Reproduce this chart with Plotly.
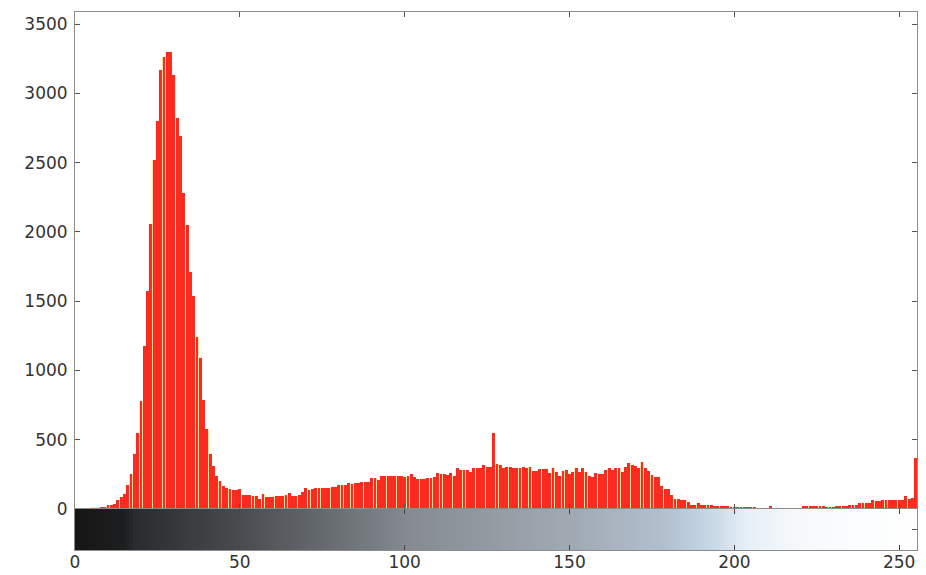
import plotly.graph_objects as go

# Grey levels 0..255 and pixel counts per level
levels = list(range(256))

counts_0_49 = [
    0, 0, 0, 0, 0, 8, 10, 10, 12, 12,
    30, 32, 35, 65, 90, 105, 170, 250, 400, 550,
    780, 1180, 1570, 2060, 2520, 2800, 3170, 3260, 3300, 3300,
    3130, 2820, 2690, 2280, 2050, 1710, 1540, 1240, 1090, 790,
    580, 400, 310, 235, 200, 165, 150, 145, 140, 140,
]
counts_50_99 = [
    145, 100, 100, 100, 95, 92, 72, 106, 88, 90,
    90, 95, 95, 95, 98, 113, 94, 92, 100, 125,
    149, 137, 145, 148, 150, 152, 155, 154, 156, 160,
    173, 170, 175, 185, 183, 186, 190, 192, 192, 194,
    226, 222, 209, 238, 236, 240, 238, 236, 240, 235,
]
counts_100_149 = [
    230, 238, 252, 228, 214, 214, 216, 226, 226, 228,
    262, 252, 252, 243, 262, 238, 298, 281, 281, 283,
    269, 298, 298, 296, 317, 305, 305, 546, 325, 318,
    293, 305, 305, 293, 298, 298, 300, 298, 305, 274,
    274, 286, 286, 286, 262, 296, 269, 238, 274, 281,
]
counts_150_199 = [
    252, 269, 293, 269, 293, 269, 238, 233, 262, 252,
    252, 281, 293, 281, 298, 298, 269, 300, 329, 317,
    310, 298, 341, 298, 274, 245, 233, 233, 166, 142,
    142, 101, 70, 70, 65, 65, 53, 29, 29, 46,
    29, 29, 29, 29, 25, 22, 22, 22, 22, 15,
]
counts_200_255 = [
    12, 12, 12, 12, 12, 12, 12, 7, 7, 7,
    7, 22, 7, 5, 5, 5, 5, 5, 5, 5,
    5, 22, 22, 22, 20, 20, 20, 20, 17, 17,
    17, 22, 22, 22, 22, 29, 29, 29, 46, 46,
    46, 46, 65, 55, 55, 65, 65, 65, 65, 65,
    65, 65, 94, 75, 82, 365,
]
counts = counts_0_49 + counts_50_99 + counts_100_149 + counts_150_199 + counts_200_255

y_tick_values = [0, 500, 1000, 1500, 2000, 2500, 3000, 3500]
x_tick_values = [0, 50, 100, 150, 200, 250]

# Colours of the grey-level strip under the histogram
strip_scale = [
    [0.00, "#161616"],
    [0.06, "#1d1e1f"],
    [0.07, "#2a2b2c"],
    [0.20, "#4a4d50"],
    [0.40, "#858b91"],
    [0.60, "#a2abb5"],
    [0.70, "#b1bfcd"],
    [0.75, "#c3d4e3"],
    [0.80, "#e6eff6"],
    [0.86, "#f6f9fb"],
    [1.00, "#ffffff"],
]

RED = "#fb2a1e"
GAP = "#fde9a6"
AXIS = "#8c8c8c"
TICKFONT = dict(family="DejaVu Sans", size=17, color="#333333")

fig = go.Figure()

# pale layer showing through the thin gaps between bars
fig.add_trace(go.Bar(
    x=levels, y=counts, width=1.0,
    marker=dict(color=GAP, line=dict(width=0)),
    xaxis="x", yaxis="y", hoverinfo="skip", showlegend=False,
))
fig.add_trace(go.Bar(
    x=levels, y=counts, width=0.86,
    marker=dict(color=RED, line=dict(color=RED, width=0.05)),
    xaxis="x", yaxis="y", showlegend=False,
))

# grey-level strip
fig.add_trace(go.Heatmap(
    x=levels, y=[0, 1], z=[levels, levels],
    colorscale=strip_scale, zmin=0, zmax=255,
    showscale=False, xaxis="x2", yaxis="y2", hoverinfo="skip",
))

strip_frac = 41 / 538
x_range = [0, 255.4]

fig.update_layout(
    width=926, height=575,
    margin=dict(l=75, r=9, t=12, b=25, autoexpand=False),
    paper_bgcolor="white", plot_bgcolor="white",
    barmode="overlay", bargap=0,
    showlegend=False,
    xaxis=dict(
        domain=[0, 1], anchor="y", range=x_range, automargin=False,
        tickvals=x_tick_values, showticklabels=False,
        ticks="inside", ticklen=5, tickcolor="#555555",
        showline=True, linecolor=AXIS, linewidth=1, mirror="ticks",
        showgrid=False, zeroline=False,
    ),
    yaxis=dict(
        domain=[strip_frac, 1], anchor="x", range=[0, 3587], automargin=False,
        tickvals=y_tick_values, ticktext=[str(v) for v in y_tick_values],
        ticks="inside", ticklen=5, tickcolor="#555555",
        showline=True, linecolor=AXIS, linewidth=1, mirror="ticks",
        showgrid=False, zeroline=False, tickfont=TICKFONT,
        ticklabelstandoff=3,
    ),
    xaxis2=dict(
        domain=[0, 1], anchor="y2", range=x_range, matches="x", automargin=False,
        tickvals=x_tick_values, ticktext=[str(v) for v in x_tick_values],
        ticks="inside", ticklen=5, tickcolor="#444444",
        showline=True, linecolor=AXIS, linewidth=1, mirror="ticks",
        showgrid=False, zeroline=False, tickfont=TICKFONT,
        ticklabelstandoff=-3,
    ),
    yaxis2=dict(
        domain=[0, strip_frac], anchor="x2", range=[-0.5, 1.5], automargin=False,
        side="right", tickvals=[0.5], showticklabels=False,
        ticks="inside", ticklen=5, tickcolor="#555555",
        showline=True, linecolor=AXIS, linewidth=1, mirror=True,
        showgrid=False, zeroline=False,
    ),
)

fig.write_html("out.html")
